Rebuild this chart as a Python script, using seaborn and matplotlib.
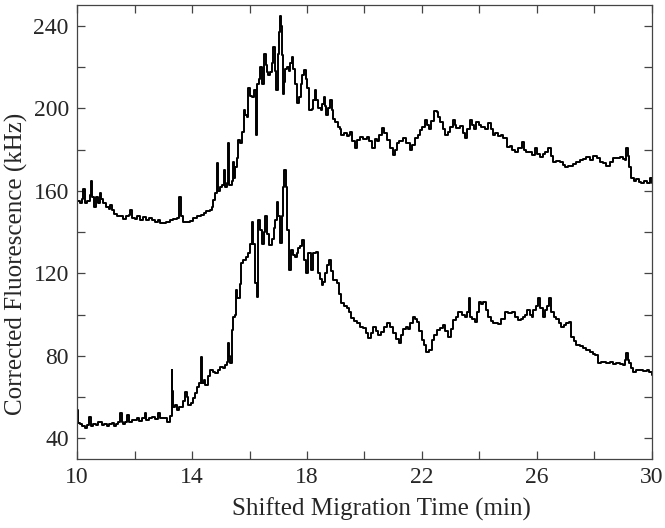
import matplotlib
matplotlib.use("Agg")
import matplotlib.pyplot as plt
import seaborn as sns
import pandas as pd
from matplotlib.ticker import MultipleLocator

# upper trace
upper_time = [
    10.00, 10.10, 10.18, 10.22, 10.28, 10.36, 10.45, 10.48, 10.52, 10.58, 10.65, 10.72, 10.78, 10.84,
    10.90, 11.00, 11.10, 11.15, 11.20, 11.30, 11.40, 11.50, 11.60, 11.70, 11.80, 11.84, 11.90, 12.00,
    12.10, 12.20, 12.30, 12.40, 12.50, 12.60, 12.70, 12.80, 12.90, 13.00, 13.10, 13.23, 13.35, 13.47,
    13.53, 13.56, 13.60, 13.70, 13.80, 13.93, 14.05, 14.16, 14.30, 14.40, 14.50, 14.63, 14.70, 14.74,
    14.80, 14.86, 14.90, 14.97, 15.05, 15.10, 15.15, 15.22, 15.26, 15.30, 15.38, 15.43, 15.47, 15.50,
    15.56, 15.61, 15.67, 15.73, 15.81, 15.86, 15.90, 15.95, 16.01, 16.07, 16.15, 16.23, 16.27, 16.33,
    16.37, 16.43, 16.50, 16.56, 16.60, 16.66, 16.71, 16.77, 16.82, 16.88, 16.92, 16.98, 17.03, 17.06,
    17.10, 17.14, 17.17, 17.21, 17.25, 17.29, 17.37, 17.42, 17.47, 17.52, 17.58, 17.64, 17.72, 17.78,
    17.84, 17.90, 17.95, 17.99, 18.07, 18.16, 18.22, 18.28, 18.33, 18.38, 18.48, 18.54, 18.59, 18.64,
    18.68, 18.74, 18.80, 18.86, 18.92, 18.97, 19.08, 19.15, 19.20, 19.30, 19.38, 19.45, 19.50, 19.58,
    19.67, 19.75, 19.84, 19.95, 20.08, 20.15, 20.25, 20.37, 20.45, 20.52, 20.60, 20.68, 20.77, 20.88,
    20.98, 21.05, 21.12, 21.22, 21.34, 21.45, 21.58, 21.66, 21.76, 21.85, 21.93, 22.02, 22.10, 22.17,
    22.24, 22.32, 22.42, 22.51, 22.57, 22.63, 22.72, 22.80, 22.90, 22.98, 23.07, 23.14, 23.20, 23.32,
    23.42, 23.50, 23.58, 23.67, 23.75, 23.83, 23.90, 23.98, 24.07, 24.18, 24.30, 24.40, 24.47, 24.56,
    24.64, 24.74, 24.82, 24.95, 25.06, 25.15, 25.23, 25.33, 25.47, 25.55, 25.64, 25.73, 25.82, 25.93,
    26.02, 26.10, 26.20, 26.30, 26.39, 26.48, 26.56, 26.68, 26.80, 26.90, 26.97, 27.10, 27.26, 27.38,
    27.50, 27.62, 27.73, 27.85, 27.96, 28.08, 28.19, 28.30, 28.42, 28.55, 28.65, 28.77, 28.89, 29.00,
    29.06, 29.12, 29.17, 29.20, 29.29, 29.38, 29.47, 29.56, 29.64, 29.73, 29.82, 29.93, 30.00,
]
upper_signal = [
    155, 154, 156, 161, 154, 155, 158, 165, 157, 152, 157, 154, 159, 156,
    154, 152, 151, 153, 150.7, 149, 148, 147.8, 146.5, 148, 148.3, 150.7, 147, 146.5,
    148, 146, 147.5, 146, 147, 146, 145, 146, 144.5, 144.4, 145, 146, 146.5, 146.8,
    150, 157, 148, 145, 145, 145.5, 147, 148, 148.5, 149.2, 150, 150.7, 152, 155.5,
    159, 173.4, 160, 162, 163, 170, 162, 164, 183, 163, 165, 174, 166, 171.5,
    176, 184.6, 183, 188.5, 199, 197, 196, 210, 206, 205.4, 209, 187, 212, 214,
    220, 212, 226.6, 221, 217.5, 216, 217.5, 222, 229.7, 218, 208.8, 226.6, 237, 245,
    240, 226, 207, 213, 219, 220, 218, 222, 224.8, 219, 212, 202.5, 205.5, 212,
    216, 218.5, 214, 210, 199, 199.5, 204, 208.8, 204, 200, 199, 202, 205.5, 201,
    196.7, 200, 204, 199, 195, 193.3, 191, 190, 187, 188, 186.5, 187, 188.5, 184,
    181, 184.6, 186, 185, 186, 184, 181, 185, 184, 187, 190.4, 188, 184.6, 181,
    177.3, 180, 183, 184, 185.6, 183, 179.7, 182, 185.6, 187, 189.4, 191, 194.3, 192,
    190, 194, 198.6, 198, 196, 193.3, 190, 187, 188.5, 191, 194.3, 192, 190.4, 191.5,
    188, 185.6, 190, 194.3, 192, 190, 193.3, 192, 191, 190, 192.8, 190, 187, 188,
    186.5, 187, 185.6, 181.2, 181.5, 180, 178.8, 181, 183.6, 180, 178.8, 179, 177.3, 180.7,
    178, 176.4, 178, 179, 180.7, 177, 174, 174.5, 174, 172.5, 171.5, 172, 173, 174,
    175, 175.5, 176.4, 175, 177, 176, 174, 173.5, 172, 174, 175.7, 176, 176.4, 175.5,
    175, 180.7, 177, 171.5, 166.2, 165, 165.5, 164.5, 163.8, 165, 164, 166, 164,
]

# lower trace
lower_time = [
    10.00, 10.03, 10.10, 10.18, 10.28, 10.35, 10.42, 10.48, 10.56, 10.65, 10.72, 10.80, 10.88, 10.95,
    11.03, 11.12, 11.20, 11.27, 11.35, 11.43, 11.50, 11.55, 11.60, 11.67, 11.74, 11.80, 11.90, 12.00,
    12.07, 12.15, 12.25, 12.36, 12.40, 12.50, 12.60, 12.70, 12.82, 12.90, 13.00, 13.13, 13.23, 13.29,
    13.31, 13.34, 13.40, 13.47, 13.55, 13.64, 13.70, 13.76, 13.82, 13.87, 13.95, 14.05, 14.10, 14.16,
    14.24, 14.30, 14.33, 14.40, 14.45, 14.54, 14.63, 14.72, 14.80, 14.90, 14.97, 15.07, 15.15, 15.22,
    15.26, 15.30, 15.32, 15.38, 15.43, 15.50, 15.53, 15.58, 15.61, 15.66, 15.70, 15.79, 15.88, 15.96,
    16.02, 16.07, 16.13, 16.19, 16.25, 16.30, 16.35, 16.39, 16.43, 16.49, 16.54, 16.60, 16.68, 16.77,
    16.84, 16.89, 16.95, 17.00, 17.06, 17.12, 17.17, 17.20, 17.27, 17.31, 17.38, 17.46, 17.52, 17.58,
    17.64, 17.70, 17.76, 17.81, 17.90, 17.97, 18.05, 18.13, 18.22, 18.31, 18.39, 18.45, 18.51, 18.57,
    18.63, 18.70, 18.78, 18.85, 18.92, 19.05, 19.12, 19.20, 19.30, 19.38, 19.47, 19.55, 19.65, 19.73,
    19.84, 19.96, 20.05, 20.13, 20.22, 20.30, 20.40, 20.48, 20.58, 20.68, 20.77, 20.88, 21.00, 21.10,
    21.21, 21.28, 21.35, 21.44, 21.52, 21.60, 21.68, 21.76, 21.82, 21.90, 21.99, 22.08, 22.16, 22.25,
    22.34, 22.42, 22.51, 22.62, 22.72, 22.82, 22.91, 23.00, 23.09, 23.18, 23.26, 23.38, 23.50, 23.58,
    23.63, 23.65, 23.68, 23.75, 23.84, 23.92, 23.99, 24.06, 24.13, 24.22, 24.30, 24.40, 24.48, 24.56,
    24.65, 24.75, 24.89, 25.00, 25.12, 25.23, 25.35, 25.45, 25.52, 25.60, 25.66, 25.75, 25.82, 25.87,
    25.96, 26.05, 26.12, 26.20, 26.28, 26.36, 26.43, 26.51, 26.60, 26.68, 26.78, 26.86, 26.95, 27.03,
    27.12, 27.20, 27.30, 27.38, 27.50, 27.61, 27.72, 27.84, 27.94, 28.02, 28.13, 28.25, 28.42, 28.55,
    28.65, 28.77, 28.90, 29.00, 29.07, 29.12, 29.16, 29.20, 29.28, 29.35, 29.45, 29.58, 29.70, 29.82,
    29.92, 30.00,
]
lower_signal = [
    53.8, 47.5, 47, 46, 45, 46.5, 50.4, 46, 47, 46.5, 48, 48, 46.5, 47,
    45.8, 47, 47.5, 45.8, 47, 48, 52.3, 48, 47, 48, 51.5, 48, 48.6, 49,
    50, 48.5, 50, 52.3, 48.6, 50, 50.4, 49.5, 52.3, 50, 49.8, 48, 51, 73.2,
    63, 55.3, 56, 53.8, 55, 55.3, 58, 62.5, 60, 56, 57, 59.6, 62, 65,
    67, 79.5, 66.7, 68, 66, 70, 73.2, 72, 71.5, 73, 74.6, 74, 75.5, 77,
    86, 80, 76.5, 92.5, 98.8, 100, 112, 108, 108, 115, 125, 126.5, 128, 129.8,
    134, 144.9, 134, 115.3, 108.5, 145.8, 141, 141, 134, 140, 148, 139, 133.7, 136.5,
    142, 146, 154.6, 148, 134.7, 148, 162, 170, 162, 141, 121.6, 131.3, 129, 128,
    130, 132.3, 133, 136, 126.5, 120, 129.8, 121.6, 129.8, 130.3, 120, 117, 114.3, 116,
    120, 124, 126.5, 121, 116.8, 115.3, 110, 105.6, 104, 103, 101, 98.3, 97, 96,
    94, 93.5, 91, 88.8, 91, 94, 92, 90, 91.5, 94, 96, 94, 91, 88,
    86.3, 90, 93, 94, 93, 96, 98.8, 98, 96.5, 92, 87.7, 85, 82, 83,
    87.7, 90, 92.5, 93.5, 95, 92, 89, 93, 97.4, 99, 101.3, 100, 99, 101,
    104, 108, 99, 98, 96.4, 101, 106, 105, 106, 102, 99, 97, 95.8, 96,
    95.5, 98, 101.3, 100.5, 101.3, 99, 97.4, 98, 99, 100, 102, 100, 99, 102,
    104, 108, 103, 99, 102, 104, 108, 101, 99, 98, 96, 94, 95, 96,
    96.5, 89, 87, 85.3, 84.5, 83.6, 83, 82, 81, 80.4, 76.5, 77, 76.5, 77,
    76, 76.5, 76, 75.5, 78, 81.4, 78, 76.5, 74, 72.2, 73, 73, 72.5, 73,
    72, 70.7,
]

x_ticks = [10, 14, 18, 22, 26, 30]
y_ticks = [40, 80, 120, 160, 200, 240]

sns.set_style("ticks")
plt.rcParams["font.family"] = ["Liberation Serif", "DejaVu Serif"]

upper = pd.DataFrame({"time": upper_time, "signal": upper_signal})
lower = pd.DataFrame({"time": lower_time, "signal": lower_signal})

fig = plt.figure(figsize=(6.65, 5.28), dpi=100)
ax = fig.add_axes([0.116, 0.131, 0.864, 0.859])

for df in (upper, lower):
    sns.lineplot(data=df, x="time", y="signal", ax=ax, color="black",
                 linewidth=1.4, drawstyle="steps-post", estimator=None,
                 sort=False)

ax.set_xlim(10, 30)
ax.set_ylim(30, 250)
ax.set_xticks(x_ticks)
ax.set_yticks(y_ticks)
ax.xaxis.set_minor_locator(MultipleLocator(2))
ax.yaxis.set_minor_locator(MultipleLocator(20))
ax.tick_params(which="both", direction="in", top=True, right=True,
               labelsize=17, color="#444444", width=0.9)
ax.tick_params(which="major", length=6, pad=6)
ax.tick_params(which="minor", length=6)
for spine in ax.spines.values():
    spine.set_linewidth(0.9)
    spine.set_color("#444444")

ax.set_xlabel("Shifted Migration Time (min)", fontsize=18)
ax.set_ylabel("Corrected Fluorescence (kHz)", fontsize=18)
ax.xaxis.set_label_coords(0.529, -0.086)
ax.yaxis.set_label_coords(-0.086, 0.43)

fig.savefig("out.png", dpi=100)
plt.close(fig)
